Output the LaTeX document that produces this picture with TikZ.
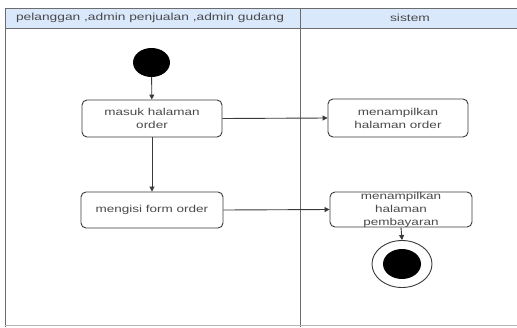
\documentclass[tikz,border=0pt]{standalone}
\usepackage{fontspec}
\setmainfont[FakeStretch=1.35]{Liberation Sans}
\usetikzlibrary{shapes.geometric,arrows.meta}
\definecolor{headblue}{HTML}{DAE8FC}
\definecolor{lanegray}{HTML}{6C6C6C}
\definecolor{inkgray}{HTML}{3A3A3A}
\definecolor{textgray}{HTML}{4A4A4A}
\begin{document}
\begin{tikzpicture}[x=1pt,y=-1pt,
  every node/.style={font=\fontsize{10}{13}\selectfont, text=textgray},
  act/.style={draw=inkgray, line width=0.9pt, rounded corners=5pt, fill=white,
    minimum width=140pt, minimum height=37pt, inner sep=0pt},
  txt/.style={align=center, inner sep=0pt},
  head/.style={font=\fontsize{10.2}{13}\selectfont},
  flow/.style={draw=inkgray, line width=0.9pt, -{Triangle[width=5pt,length=5pt]}},
  lane/.style={draw=lanegray, line width=1pt}]
\useasboundingbox (0,0) rectangle (517,327);
% swimlane headers and borders
\fill[headblue] (5,8) rectangle (517,28);
\draw[lane] (517,8) -- (5,8) -- (5,327);
\draw[lane] (5,28) -- (517,28);
\draw[lane] (300,8) -- (300,327);
\draw[draw=lanegray!50, line width=0.6pt] (5,325) -- (517,325);
\node[head] (h1) at (150,18) {pelanggan ,admin penjualan ,admin gudang};
\node[head] (h2) at (410,18) {sistem};
% start node
\node[ellipse, fill=black, minimum width=37pt, minimum height=29pt, inner sep=0pt] (start) at (151.5,62.5) {};
% activities
\node[act] (masuk) at (152,118.5) {};
\node[txt] at (masuk.center) {masuk halaman\\order};
\node[act, minimum width=142pt, minimum height=36pt] (isi) at (152,210) {};
\node[txt] at (isi.center) {mengisi form order};
\node[act, minimum height=38pt] (tampil1) at (398,118) {};
\node[txt] at (tampil1.center) {menampilkan\\halaman order};
\node[act, minimum width=142pt, minimum height=35pt] (tampil2) at (401,209.5) {};
\node[txt] at (tampil2.center) {menampilkan\\halaman\\pembayaran};
% final node
\node[ellipse, draw=inkgray, line width=0.9pt, fill=white, minimum width=60pt, minimum height=47pt, inner sep=0pt] (end) at (402,264) {};
\node[ellipse, fill=black, minimum width=38pt, minimum height=30pt, inner sep=0pt] (endin) at (end.center) {};
% flows
\draw[flow] (start) -- (masuk);
\draw[flow] (masuk) -- (isi);
\draw[flow] (masuk.east) -- (tampil1.west);
\draw[flow] (isi.east) -- (tampil2.west);
\draw[flow] (tampil2.south) -- (end.north);
\end{tikzpicture}
\end{document}
